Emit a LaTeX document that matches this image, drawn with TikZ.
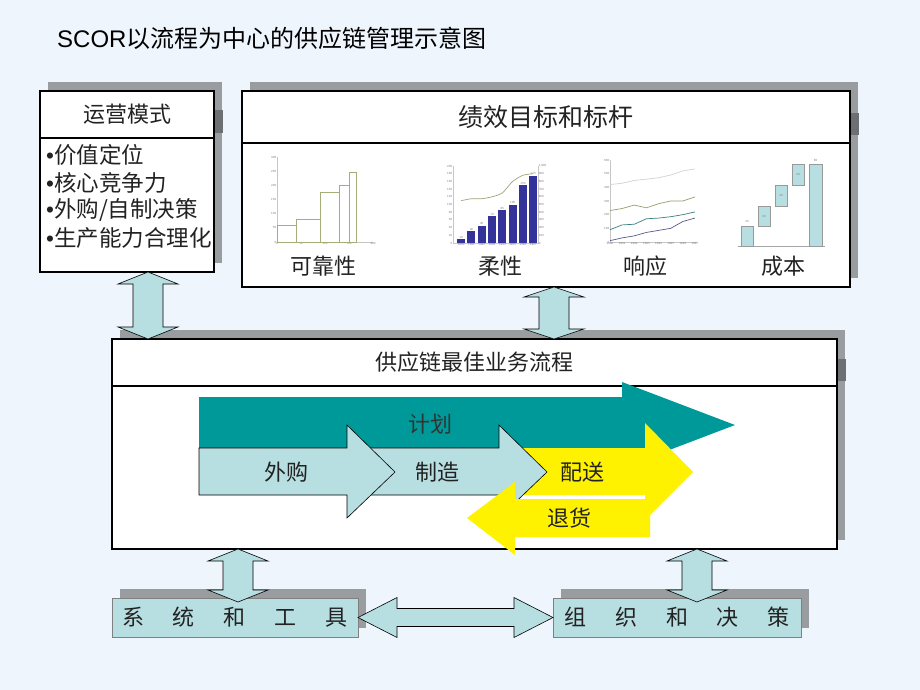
\documentclass[tikz,border=0pt]{standalone}
\usepackage{fontspec}
\setmainfont{Noto Sans CJK SC}
\newfontfamily\latinfont{Liberation Sans}
\usetikzlibrary{calc,backgrounds}

\definecolor{bgblue}{HTML}{EEF5FC}
\definecolor{shadowgray}{HTML}{9A9D9F}
\definecolor{shadowdark}{HTML}{6D7072}
\definecolor{lightteal}{HTML}{B7DEE1}
\definecolor{planteal}{HTML}{009999}
\definecolor{navybar}{HTML}{333399}
\definecolor{olivebar}{HTML}{A3AF78}
\definecolor{inkgray}{HTML}{222222}

\newcommand{\zhsize}[1]{\fontsize{#1}{#1}\selectfont}

% vertical double block arrow, upper end / lower end
\newcommand{\vblock}[3][12]{%
  \filldraw[blockarrow] let \p1=(#2), \p2=(#3) in
    (\x1,\y1) -- (\x1+30pt,\y1-#1pt) -- (\x1+15pt,\y1-#1pt) -- (\x1+15pt,\y2+#1pt)
    -- (\x1+30pt,\y2+#1pt) -- (\x1,\y2) -- (\x1-30pt,\y2+#1pt) -- (\x1-15pt,\y2+#1pt)
    -- (\x1-15pt,\y1-#1pt) -- (\x1-30pt,\y1-#1pt) -- cycle;}

% horizontal double block arrow, left end / right end
\newcommand{\hblock}[2]{%
  \filldraw[blockarrow] let \p1=(#1), \p2=(#2) in
    (\x1,\y1) -- (\x1+39pt,\y1+20pt) -- (\x1+39pt,\y1+9pt) -- (\x2-39pt,\y1+9pt)
    -- (\x2-39pt,\y1+20pt) -- (\x2,\y1) -- (\x2-39pt,\y1-20pt) -- (\x2-39pt,\y1-9pt)
    -- (\x1+39pt,\y1-9pt) -- (\x1+39pt,\y1-20pt) -- cycle;}

% gray shadow behind a header/body pair
\newcommand{\boxshadow}[2]{%
  \fill[shadowgray] ($(#1.north west)+(8,-9)$) rectangle ($(#2.south east)+(8,-9)$);
  \fill[shadowdark] ($(#1.east)+(0,-4)$) rectangle ++(9,22);}

\begin{document}
\begin{tikzpicture}[x=1pt, y=-1pt,
    box/.style={draw=black, line width=2.2pt, fill=white, inner sep=0pt, outer sep=0pt, text=inkgray},
    flatbox/.style={draw=gray, line width=0.6pt, fill=lightteal, inner sep=0pt, outer sep=0pt,
      minimum height=39, font={\zhsize{22}}, text=inkgray},
    blockarrow/.style={fill=lightteal, draw=black, line width=0.6pt},
    steparrow/.style={fill=lightteal, draw=black, line width=0.6pt},
    zhtext/.style={inner sep=0pt, font={\zhsize{22}}, text=inkgray},
    tick/.style={font={\latinfont\fontsize{3}{3}\selectfont}, text=gray, inner sep=0.6pt},
    axis/.style={draw=gray!45, line width=0.4pt},
    costbar/.style={fill=lightteal, draw=gray!80, line width=0.5pt}]

    \begin{pgfonlayer}{background}
        \fill[bgblue] (0,0) rectangle (920,690);
    \end{pgfonlayer}
    \useasboundingbox (0,0) rectangle (920,690);

    % title
    \node[anchor=west, inner sep=0pt, font={\zhsize{24}}] (title) at (57,38)
        {{\latinfont SCOR}以流程为中心的供应链管理示意图};

    % operations model
    \node[box, minimum width=174, minimum height=47, font={\zhsize{22}}] (opshead) at (127,114.5) {运营模式};
    \node[box, minimum width=174, minimum height=134, anchor=north] (ops) at (opshead.south) {};
    \foreach \t [count=\i] in {价值定位,核心竞争力,{外购/自制决策},生产能力合理化}
        \node[zhtext, anchor=west, font={\zhsize{22.5}}] (item\i) at (46,{155+27.5*(\i-1)}) {{\latinfont•}\t};

    % performance targets
    \node[box, minimum width=608, minimum height=52, font={\zhsize{25}}] (perfhead) at (546,117) {绩效目标和标杆};
    \node[box, minimum width=608, minimum height=144, anchor=north] (perf) at (perfhead.south) {};

    % best practice process
    \node[box, minimum width=725, minimum height=47, font={\zhsize{22}}] (prochead) at (474.5,362.5) {供应链最佳业务流程};
    \node[box, minimum width=725, minimum height=163, anchor=north] (proc) at (prochead.south) {};

    % bottom boxes
    \node[flatbox, minimum width=246] (tools) at (235,617.5)
        {系\hspace{29pt}统\hspace{29pt}和\hspace{29pt}工\hspace{29pt}具};
    \node[flatbox, minimum width=248] (org) at (677,617.5)
        {组\hspace{29pt}织\hspace{29pt}和\hspace{29pt}决\hspace{29pt}策};

    \begin{pgfonlayer}{background}
        \boxshadow{opshead}{ops}
        \boxshadow{perfhead}{perf}
        \boxshadow{prochead}{proc}
        \fill[shadowgray] ($(tools.north west)+(8,-9)$) rectangle ($(tools.south east)+(8,-9)$);
        \fill[shadowgray] ($(org.north west)+(8,-9)$) rectangle ($(org.south east)+(8,-9)$);
    \end{pgfonlayer}

    % chart: reliability
    \begin{scope}[shift={(277,242)}, x=0.48pt, y=0.2833pt]
        \draw[axis] (0,300) -- (0,0) -- (200,0);
        \foreach \v in {0,50,...,300} \node[tick, left] at (0,\v) {\v};
        \foreach \v in {0,50,...,200} \node[tick, below] at (\v,0) {\v};
        \draw[olivebar, line width=0.8pt] (0,0) rectangle (40,60) (40,0) rectangle (90,80)
            (90,0) rectangle (130,175) (130,0) rectangle (150,200) (150,0) rectangle (165,245);
    \end{scope}

    % chart: flexibility
    \begin{scope}[shift={(453,243)}, x=10.3pt, y=0.385pt]
        \draw[axis] (0,200) -- (0,0) -- (8.25,0) -- (8.25,200);
        \foreach \v in {0,20,...,200} \node[tick, left] at (0,\v) {\v};
        \foreach \v/\l in {0/0,20/100,40/200,60/300,80/400,100/500,120/600,140/700,160/800,180/900,200/{1,000}}
            \node[tick, right] at (8.25,\v) {\l};
        \foreach \h [count=\i from 0] in {10,30,45,70,85,100,150,175} {
            \fill[navybar] (\i+0.4,0) rectangle (\i+1.18,\h);
            \node[tick, above] at (\i+0.79,\h) {\h};
            \node[tick, below] at (\i+0.79,0) {199\i};
        }
        \draw[olivebar!80!gray, line width=0.7pt] plot[smooth, tension=0.4] coordinates
            {(0.79,110) (1.79,115) (2.79,115) (3.79,120) (4.79,130) (5.79,160) (6.79,176) (7.79,180)};
    \end{scope}

    % chart: responsiveness
    \begin{scope}[shift={(610,242)}, x=12.14pt, y=0.1367pt]
        \draw[axis] (0,600) -- (0,0) -- (7.2,0);
        \foreach \v in {0,100,...,600} \node[tick, left] at (0,\v) {\v};
        \foreach \i in {0,...,7} \node[tick, below] at (\i,0) {199\i};
        \draw[gray!35, line width=0.7pt] plot coordinates
            {(0,420) (1,430) (2,450) (3,460) (4,470) (5,490) (6,520) (7,535)};
        \draw[olivebar!90!black, line width=0.7pt] plot coordinates
            {(0,230) (1,245) (2,270) (3,250) (4,280) (5,300) (6,300) (7,330)};
        \draw[teal!55!gray, line width=0.7pt] plot coordinates
            {(0,90) (1,125) (2,130) (3,170) (4,175) (5,185) (6,200) (7,220)};
        \draw[navybar!50!gray, line width=0.7pt] plot coordinates
            {(0,10) (1,30) (2,45) (3,70) (4,85) (5,100) (6,150) (7,175)};
    \end{scope}

    % chart: cost
    \draw[axis, draw=gray!70] (738,246) -- (825,246);
    \filldraw[costbar] (741,226) rectangle (753,246);
    \filldraw[costbar] (758,206) rectangle (770,226);
    \filldraw[costbar] (775,185) rectangle (787,206);
    \filldraw[costbar] (792,164) rectangle (804,185);
    \filldraw[costbar] (809,164) rectangle (822,246);
    \node[tick] at (747,221) {20};
    \node[tick] at (764,216) {20};
    \node[tick] at (781,195.5) {20};
    \node[tick] at (798,174.5) {20};
    \node[tick] at (815.5,160) {80};

    % chart captions
    \node[zhtext] (reliab) at (323,266) {可靠性};
    \node[zhtext] (flex) at (500,266) {柔性};
    \node[zhtext] (resp) at (645,266) {响应};
    \node[zhtext] (cost) at (783,266) {成本};

    % process arrows
    \fill[planteal] (199,397) -- (622,397) -- (622,382) -- (735,425) -- (622,468) -- (622,453) -- (199,453) -- cycle;
    \fill[yellow] (500,448) -- (645,448) -- (645,423) -- (693,472) -- (645,520) -- (645,495) -- (500,495) -- cycle;
    \filldraw[steparrow] (360,448) -- (499,448) -- (499,425) -- (547,472) -- (499,518) -- (499,495) -- (360,495) -- cycle;
    \filldraw[steparrow] (199,448) -- (347,448) -- (347,425) -- (395,472) -- (347,518) -- (347,495) -- (199,495) -- cycle;
    \fill[yellow] (650,499) -- (515,499) -- (515,482) -- (467,518) -- (515,555) -- (515,537) -- (650,537) -- cycle;

    \node[zhtext, text=black!80] (plan) at (430,424) {计划};
    \node[zhtext] (source) at (286,472) {外购};
    \node[zhtext] (make) at (437,472) {制造};
    \node[zhtext] (deliver) at (582,472) {配送};
    \node[zhtext] (return) at (569,518) {退货};

    % connectors
    \coordinate (a1) at (148,0);
    \coordinate (a2) at (554,0);
    \coordinate (a3) at (238,0);
    \coordinate (a4) at (697,0);
    \vblock{ops.south -| a1}{prochead.north -| a1}
    \vblock[10]{perf.south -| a2}{prochead.north -| a2}
    \vblock{proc.south -| a3}{$(tools.north -| a3)+(0,4)$}
    \vblock{proc.south -| a4}{$(org.north -| a4)+(0,4)$}
    \hblock{tools.east}{org.west}
\end{tikzpicture}
\end{document}
